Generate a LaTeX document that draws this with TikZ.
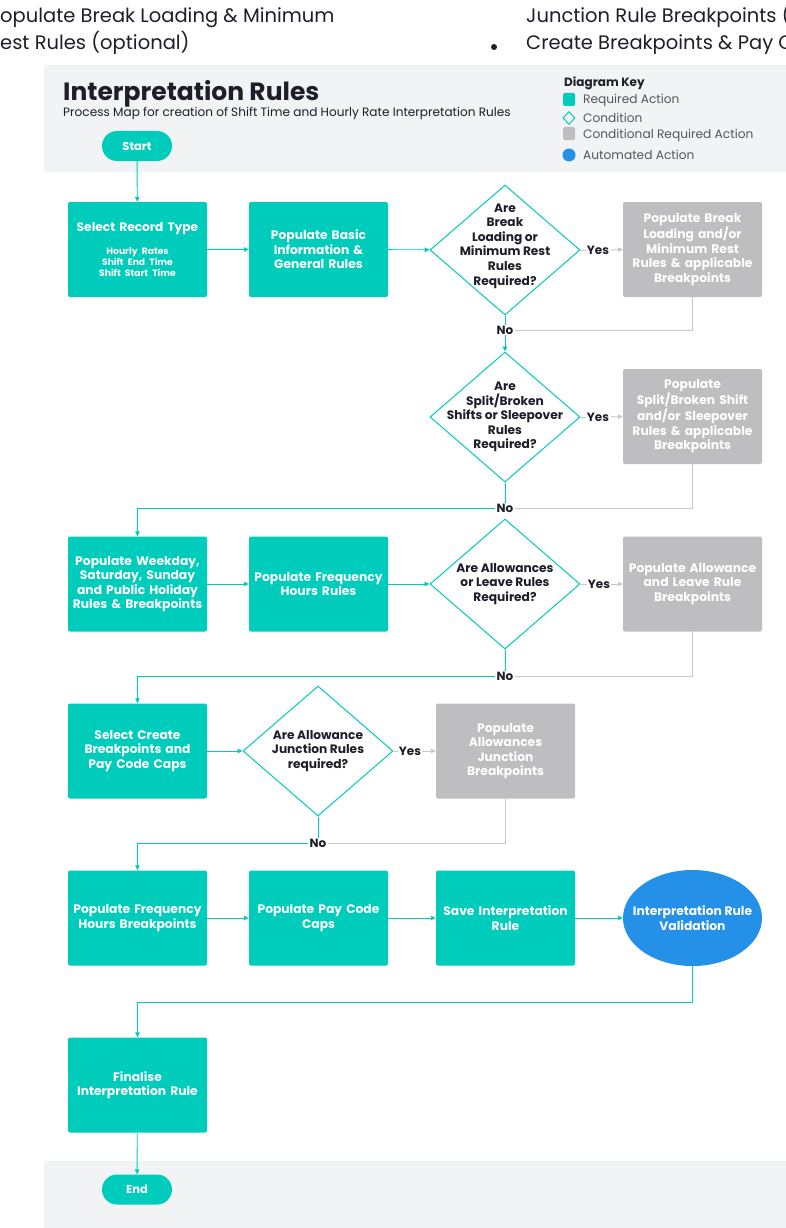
\documentclass[tikz,border=0pt]{standalone}
\usepackage{fontspec}
\setmainfont{Poppins}
\usetikzlibrary{shapes.geometric,arrows.meta}
\definecolor{req}{HTML}{00CCBB}
\definecolor{cond}{HTML}{BEBEC0}
\definecolor{auto}{HTML}{2490E8}
\definecolor{band}{HTML}{F2F3F5}
\definecolor{ink}{HTML}{1E1E28}
\definecolor{gline}{HTML}{C6C6C8}
\definecolor{keyink}{HTML}{55555F}

\tikzset{
  boxfont/.style={font=\fontsize{12.3}{14.6}\selectfont\bfseries},
  reqbox/.style={rectangle,rounded corners=2pt,fill=req,text=white,boxfont,minimum width=139pt,minimum height=95pt,text width=137pt,align=center,inner sep=0pt},
  condbox/.style={reqbox,fill=cond},
  decision/.style={diamond,draw=req,line width=1pt,fill=white,minimum width=150pt,minimum height=130pt,inner sep=0pt},
  dtext/.style={text=ink,font=\fontsize{12.2}{14.6}\selectfont\bfseries,align=center},
  atext/.style={text=white,boxfont,align=center},
  autoaction/.style={ellipse,fill=auto,minimum width=139pt,minimum height=96pt,inner sep=0pt},
  terminal/.style={rectangle,rounded corners=15pt,fill=req,text=white,font=\fontsize{11.5}{13}\selectfont\bfseries,minimum width=70pt,minimum height=30pt,inner sep=0pt},
  lbl/.style={text=ink,font=\fontsize{12}{13}\selectfont\bfseries,inner sep=1pt},
  toptext/.style={text=ink,font=\fontsize{19.5}{22}\selectfont,inner sep=0pt,anchor=base west},
  keytext/.style={text=keyink,font=\fontsize{12.2}{14}\selectfont,inner sep=0pt,anchor=base west},
  flow/.style={draw=req,line width=0.9pt},
  gflow/.style={draw=gline,line width=0.9pt},
  tip/.style={-{Triangle[length=5pt,width=4.5pt]}}
}

\begin{document}
\begin{tikzpicture}[x=1pt,y=-1pt]
\useasboundingbox (0,0) rectangle (786,1228);

% text above the map
\node[toptext] (tl1) at (0,23) {opulate Break Loading \& Minimum};
\node[toptext] (tl2) at (0,50) {est Rules (optional)};
\node[toptext] (tr1) at (526,23) {Junction Rule Breakpoints (};
\node[toptext] (tr2) at (526,50) {Create Breakpoints \& Pay C};
\node[fill=ink,circle,minimum size=6pt,inner sep=0pt] (bul) at (494,47) {};

% header and footer bands
\fill[band] (44,65) rectangle (786,172);
\fill[band] (44,1161) rectangle (786,1228);

\node[text=ink,font=\fontsize{25}{28}\selectfont\bfseries,inner sep=0pt,anchor=base west] (ttl) at (63,101) {Interpretation Rules};
\node[keytext,text=ink,font=\fontsize{12.1}{14}\selectfont] (sub) at (63,117) {Process Map for creation of Shift Time and Hourly Rate Interpretation Rules};

% diagram key
\node[keytext,text=ink,font=\fontsize{12}{14}\selectfont\bfseries] (kyt) at (564,87) {Diagram Key};
\node[rectangle,rounded corners=1.5pt,fill=req,minimum width=12pt,minimum height=13pt,inner sep=0pt] (ky1) at (569,99.5) {};
\node[diamond,draw=req,line width=1pt,minimum width=12pt,minimum height=13pt,inner sep=0pt] (ky2) at (569,118) {};
\node[rectangle,rounded corners=1.5pt,fill=cond,minimum width=12pt,minimum height=13pt,inner sep=0pt] (ky3) at (569,133.5) {};
\node[circle,fill=auto,minimum size=13pt,inner sep=0pt] (ky4) at (569,155) {};
\node[keytext] (kl1) at (583,104) {Required Action};
\node[keytext] (kl2) at (583,122) {Condition};
\node[keytext] (kl3) at (583,139) {Conditional Required Action};
\node[keytext] (kl4) at (583,159) {Automated Action};

% start
\node[terminal] (str) at (137,146) {Start};

% row 1
\node[reqbox] (rec) at (137.5,249.5) {{\fontsize{12.2}{14}\selectfont Select Record Type\par}\vspace{12pt}{\fontsize{9.2}{11}\selectfont Hourly Rates\\Shift End Time\\Shift Start Time\par}};
\node[reqbox] (bas) at (318.5,249.5) {Populate Basic\\Information \&\\General Rules};
\node[decision,label={[dtext,yshift=4pt]center:{Are\\Break\\Loading or\\Minimum Rest\\Rules\\Required?}}] (dq1) at (505,250) {};
\node[condbox] (brk) at (692.5,249.5) {Populate Break\\Loading and/or\\Minimum Rest\\Rules \& applicable\\Breakpoints};
\node[lbl] (ys1) at (598,250) {Yes};
\node[lbl] (no1) at (505,330) {No};

% row 2
\node[decision,label={[dtext]center:{Are\\Split/Broken\\Shifts or Sleepover\\Rules\\Required?}}] (dq2) at (505,417) {};
\node[condbox] (spl) at (692.5,416.5) {Populate\\Split/Broken Shift\\and/or Sleepover\\Rules \& applicable\\Breakpoints};
\node[lbl] (ys2) at (598,417) {Yes};
\node[lbl] (no2) at (505,508) {No};

% row 3
\node[reqbox] (wkd) at (137.5,584) {Populate Weekday,\\Saturday, Sunday\\and Public Holiday\\Rules \& Breakpoints};
\node[reqbox] (frq) at (318.5,584) {Populate Frequency\\Hours Rules};
\node[decision,label={[dtext]center:{Are Allowances\\or Leave Rules\\Required?}}] (dq3) at (505,584) {};
\node[condbox] (alw) at (692.5,584) {Populate Allowance\\and Leave Rule\\Breakpoints};
\node[lbl] (ys3) at (599,584) {Yes};
\node[lbl] (no3) at (505,676) {No};

% row 4
\node[reqbox] (cap) at (137.5,751) {Select Create\\Breakpoints and\\Pay Code Caps};
\node[decision,label={[dtext]center:{Are Allowance\\Junction Rules\\required?}}] (dq4) at (318,751) {};
\node[condbox] (jnc) at (505.5,751) {Populate\\Allowances\\Junction\\Breakpoints};
\node[lbl] (ys4) at (410,751) {Yes};
\node[lbl] (no4) at (318,843) {No};

% row 5
\node[reqbox] (fhb) at (137.5,918) {Populate Frequency\\Hours Breakpoints};
\node[reqbox] (pcc) at (318.5,918) {Populate Pay Code\\Caps};
\node[reqbox] (sav) at (505.5,918) {Save Interpretation\\Rule};
\node[autoaction,label={[atext]center:{Interpretation Rule\\Validation}}] (val) at (692.5,918) {};

% finish
\node[reqbox] (fin) at (137.5,1085) {Finalise\\Interpretation Rule};
\node[terminal] (stp) at (137,1189.5) {End};

% connectors
\draw[flow,tip] (str) -- (rec);
\draw[flow,tip] (rec) -- (bas);
\draw[flow,tip] (bas) -- (dq1);
\draw[gflow] (dq1.east) -- (ys1.west);
\draw[gflow,tip] (ys1.east) -- (brk.west);
\draw[flow] (dq1.south) -- (no1.north);
\draw[gflow] (brk.south) |- (no1.east);
\draw[flow,tip] (no1.south) -- (dq2.north);

\draw[gflow] (dq2.east) -- (ys2.west);
\draw[gflow,tip] (ys2.east) -- (spl.west);
\draw[flow] (dq2.south) -- (no2.north);
\draw[gflow] (spl.south) |- (no2.east);
\draw[flow,tip] (no2.west) -| (wkd.north);

\draw[flow,tip] (wkd) -- (frq);
\draw[flow,tip] (frq) -- (dq3);
\draw[gflow] (dq3.east) -- (ys3.west);
\draw[gflow,tip] (ys3.east) -- (alw.west);
\draw[flow] (dq3.south) -- (no3.north);
\draw[gflow] (alw.south) |- (no3.east);
\draw[flow,tip] (no3.west) -| (cap.north);

\draw[flow,tip] (cap) -- (dq4);
\draw[gflow] (dq4.east) -- (ys4.west);
\draw[gflow,tip] (ys4.east) -- (jnc.west);
\draw[flow] (dq4.south) -- (no4.north);
\draw[gflow] (jnc.south) |- (no4.east);
\draw[flow,tip] (no4.west) -| (fhb.north);

\draw[flow,tip] (fhb) -- (pcc);
\draw[flow,tip] (pcc) -- (sav);
\draw[flow,tip] (sav) -- (val);
\draw[flow,tip] (val.south) -- ++(0,36) -| (fin.north);
\draw[flow,tip] (fin) -- (stp);
\end{tikzpicture}
\end{document}
